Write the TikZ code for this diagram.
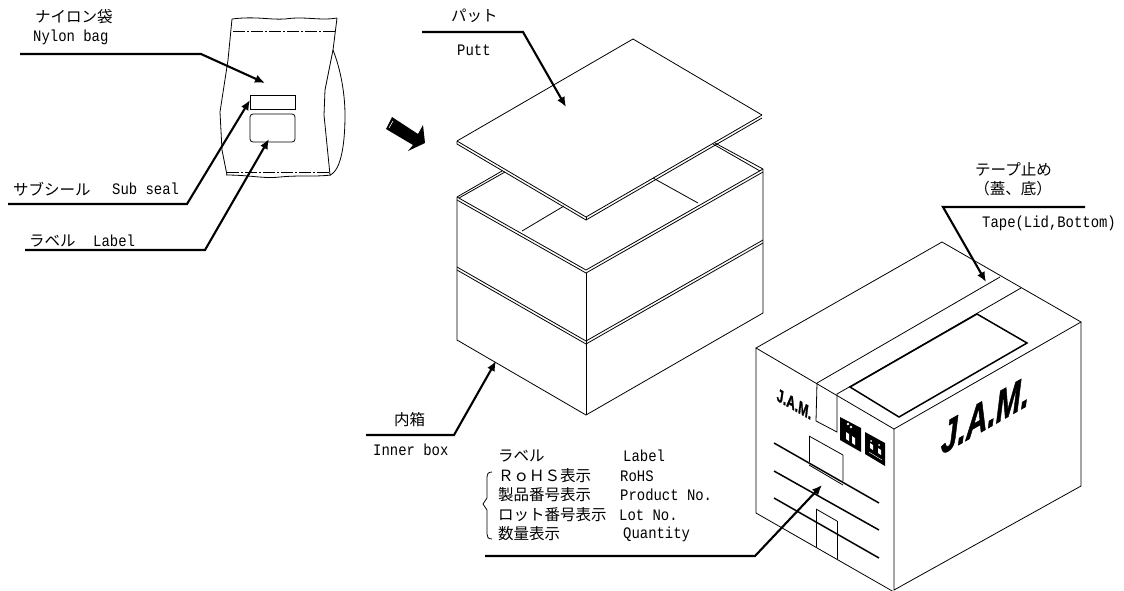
\documentclass[tikz,border=0pt]{standalone}
\usepackage{fontspec}
\setmainfont{Liberation Mono}[FakeStretch=0.87]
\newfontfamily\jpfont{Noto Sans CJK JP}
\newfontfamily\logofont{Liberation Sans}[BoldItalicFont={Liberation Sans Bold Italic},BoldItalicFeatures={FakeBold=1.5}]
\usetikzlibrary{arrows.meta}

\tikzset{
	edge/.style={line width=0.8pt,line join=miter},
	seal/.style={line width=0.7pt,dash pattern=on 12pt off 2pt on 2pt off 2pt},
	heavy/.style={line width=1.5pt},
	leader/.style={line width=2.1pt,-{Latex[length=10pt,width=8.5pt]}},
	jp/.style={inner sep=0pt,anchor=west,font=\jpfont\fontsize{15.5}{16}\selectfont},
	en/.style={inner sep=0pt,anchor=west,font=\fontsize{16}{17}\selectfont},
	logo/.style={inner sep=0pt,text=black,transform shape,font=\logofont\bfseries\itshape},
}

\begin{document}
\begin{tikzpicture}[x=1pt,y=-1pt]
	\useasboundingbox (0,0) rectangle (1124,590);

	% bag
	\draw[edge] (232,19) .. controls (255,16) and (270,20) .. (285,19) .. controls (305,16) and (320,21) .. (337,18);
	\draw[edge] (232,19) -- (228,60) -- (220,112) -- (222,150) -- (227,175);
	\draw[edge] (226,175) .. controls (250,175) and (265,179) .. (280,177) .. controls (300,175) and (315,177) .. (331,175);
	\draw[edge] (337,18) -- (333,50) -- (325,90) -- (324,115) -- (330,175);
	\draw[edge] (333,50) .. controls (341,70) and (345,95) .. (345,115) .. controls (345,140) and (342,170) .. (330,175);
	\draw[seal] (233,31) -- (335,31);
	\draw[seal] (227,172) -- (330,172);
	\draw[edge] (250,95) rectangle (295,109);
	\draw[edge,rounded corners=3pt] (250,114) rectangle (295,142);

	% big arrow
	\fill (392,117) -- (386,129) -- (413,145) -- (408,151) -- (425,143) -- (423,125) -- (418,134) -- cycle;
	\draw[white,line width=0.6pt] (393,121) -- (389,128);

	% pad
	\draw[edge] (457,141) -- (633,39) -- (762,115);
	\draw[edge] (457,141) -- (457,144) -- (586,220) -- (762,118);
	\draw[edge] (457,141) -- (586,217) -- (762,115);
	\draw[edge] (586,217) -- (586,220);

	% inner box
	\draw[edge] (457,197) -- (502,171);
	\draw[edge] (459,198) -- (505,172);
	\draw[edge] (715,143) -- (763,169);
	\draw[edge] (713,144) -- (760,171);
	\draw[edge] (457,197) -- (586,270) -- (763,169);
	\draw[edge] (457,200) -- (586,273) -- (763,172);
	\draw[edge] (522,231) -- (564,206);
	\draw[edge] (653,178) -- (698,203);
	\draw[edge] (457,197) -- (457,340) -- (586,415) -- (763,313) -- (763,169);
	\draw[edge] (586,273) -- (586,415);
	\draw[edge] (457,267) -- (586,341) -- (763,240);
	\draw[edge] (457,270) -- (586,344) -- (763,243);

	% outer box
	\draw[edge] (756,348) -- (942,242) -- (1081,322) -- (894,429) -- cycle;
	\draw[edge] (756,348) -- (756,513) -- (894,592);
	\draw[edge] (894,429) -- (894,590) -- (1081,486) -- (1081,322);
	\draw[edge] (1000,277) -- (817,383) -- (816,421) -- (837,432) -- (837,394) -- (1021,288);
	\draw[edge] (816,509) -- (816,547);
	\draw[edge] (837,521) -- (837,559);
	\draw[edge] (816,509) -- (837,521);
	\draw[heavy] (977,314) -- (1027,343) -- (899,417) -- (850,387) -- cycle;
	\draw[edge] (809,436) -- (843,455) -- (843,481);
	\draw[edge] (809,436) -- (809,462);
	\draw[heavy] (774,443) -- (879,503);
	\draw[heavy] (774,471) -- (879,530);
	\draw[heavy] (774,498) -- (879,558);
	\draw[edge] (809,465) -- (843,485);

	% marks
	\fill (840,417) -- (861,428) -- (861,452) -- (840,440) -- cycle;
	\fill (865,432) -- (885,443) -- (885,466) -- (865,454) -- cycle;
	\fill[white] (848,424) circle (1.3pt);
	\fill[white] (851,427) circle (1.3pt);
	\fill[white] (846,432) -- (849,434) -- (849,441) -- (846,439) -- cycle;
	\fill[white] (852,436) -- (855,438) -- (855,445) -- (852,443) -- cycle;
	\fill[white] (870,443) -- (873,445) -- (873,450) -- (870,448) -- cycle;
	\fill[white] (878,448) -- (881,450) -- (881,455) -- (878,453) -- cycle;
	\fill[white] (871,441) circle (1pt);
	\fill[white] (879,445) circle (1pt);
	\draw[white,line width=0.4pt] (869,452) -- (882,460);
	\node[logo,yslant=-0.57,xscale=0.62] (logoleft) at (794,404) {\fontsize{19}{19}\selectfont J.A.M.};
	\node[logo,yslant=0.57,xscale=0.68] (logoright) at (985,415) {\fontsize{44}{44}\selectfont J.A.M.};

	% texts
	\node[jp] (bagjp) at (35,17) {ナイロン袋};
	\node[en] (bagen) at (33,37) {Nylon bag};
	\node[jp] (subjp) at (13,189) {サブシール};
	\node[en] (suben) at (112,189) {Sub seal};
	\node[jp] (labeljp) at (29,241) {ラベル};
	\node[en] (labelen) at (93,241) {Label};
	\node[jp] (padjp) at (451,16) {パット};
	\node[en] (paden) at (457,50) {Putt};
	\node[jp] (tapejp) at (975,169) {テープ止め};
	\node[jp,anchor=center] (tapesub) at (1013,189) {（蓋、底）};
	\node[en] (tapeen) at (982,223) {Tape(Lid,Bottom)};
	\node[jp] (innerjp) at (394,420) {内箱};
	\node[en] (inneren) at (373,450) {Inner box};
	\node[jp] (boxlabeljp) at (498,456) {ラベル};
	\node[en] (boxlabelen) at (623,456) {Label};
	\node[jp] (rohsjp) at (498,476) {ＲｏＨＳ表示};
	\node[en] (rohsen) at (620,476) {RoHS};
	\node[jp] (prodjp) at (498,495) {製品番号表示};
	\node[en] (proden) at (620,495) {Product No.};
	\node[jp] (lotjp) at (498,515) {ロット番号表示};
	\node[en] (loten) at (619,515) {Lot No.};
	\node[jp] (qtyjp) at (498,534) {数量表示};
	\node[en] (qtyen) at (623,534) {Quantity};
	\draw[edge] (492,472) .. controls (488,472) and (487,474) .. (487,478) -- (487,498) -- (483,504) -- (487,510) -- (487,534) .. controls (487,537) and (488,539) .. (492,539);

	% leaders
	\coordinate (bagstart) at (20,54);
	\coordinate (bagbend) at (201,54);
	\coordinate (bagtip) at (265,83);
	\coordinate (substart) at (8,204);
	\coordinate (subbend) at (187,204);
	\coordinate (subtip) at (250,100);
	\coordinate (labelstart) at (25,250);
	\coordinate (labelbend) at (205,250);
	\coordinate (labeltip) at (269,139);
	\coordinate (padstart) at (422,32);
	\coordinate (padbend) at (523,32);
	\coordinate (padtip) at (566,107);
	\coordinate (tapestart) at (1085,207);
	\coordinate (tapebend) at (943,207);
	\coordinate (tapetip) at (986,282);
	\coordinate (innerstart) at (366,435);
	\coordinate (innerbend) at (454,435);
	\coordinate (innertip) at (496,361);
	\coordinate (boxstart) at (485,556);
	\coordinate (boxbend) at (755,556);
	\coordinate (boxtip) at (822,485);
	\draw[leader] (bagstart) -- (bagbend) -- (bagtip);
	\draw[leader] (substart) -- (subbend) -- (subtip);
	\draw[leader] (labelstart) -- (labelbend) -- (labeltip);
	\draw[leader] (padstart) -- (padbend) -- (padtip);
	\draw[leader] (tapestart) -- (tapebend) -- (tapetip);
	\draw[leader] (innerstart) -- (innerbend) -- (innertip);
	\draw[leader] (boxstart) -- (boxbend) -- (boxtip);
\end{tikzpicture}
\end{document}
